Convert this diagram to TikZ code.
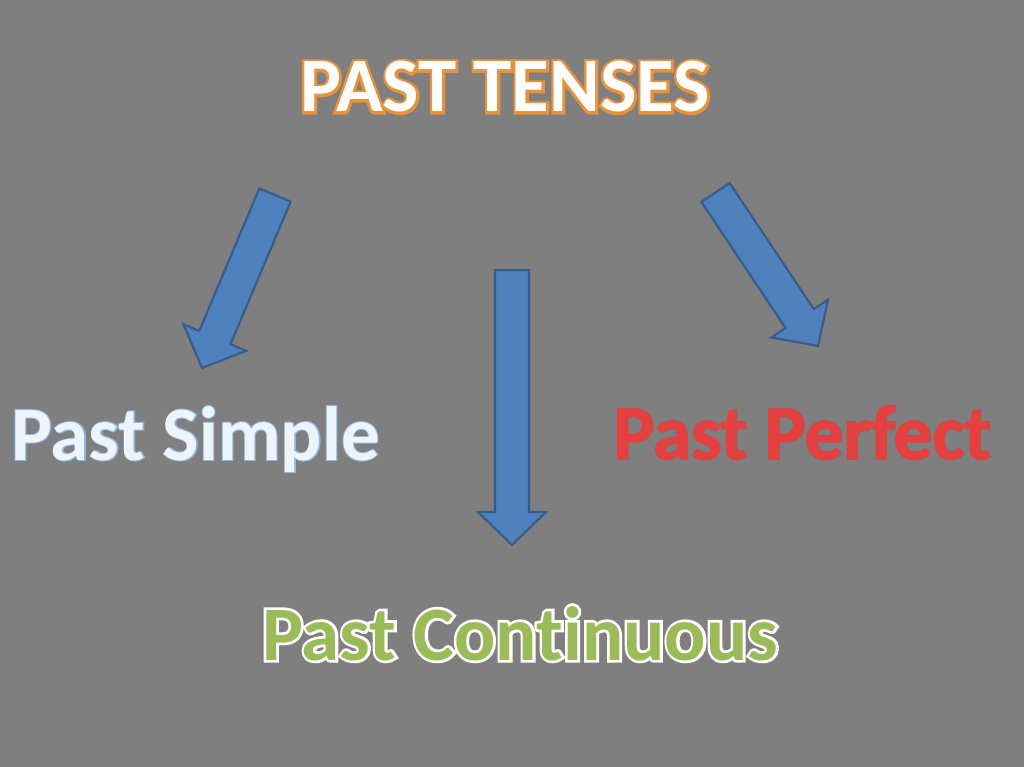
\documentclass[tikz,border=0pt]{standalone}
\usepackage{fontspec}
\setmainfont{Carlito}[Ligatures=NoCommon]
\newfontfamily\thickfont{Carlito}[Ligatures=NoCommon,BoldFeatures={FakeBold=7}]
\newfontfamily\thinfont{Carlito}[Ligatures=NoCommon,BoldFeatures={FakeBold=2.5}]
\usepackage{tikz}
\usetikzlibrary{calc}
\definecolor{bggray}{HTML}{7F7F7F}
\definecolor{arrfill}{HTML}{4F81BD}
\definecolor{arrline}{HTML}{385D8A}
\definecolor{ttlglow}{HTML}{E8923C}
\definecolor{simpfill}{HTML}{EEF4FB}
\definecolor{simpline}{HTML}{8EB4E3}
\definecolor{perffill}{HTML}{E5403F}
\definecolor{perfline}{HTML}{C0504D}
\definecolor{contfill}{HTML}{9BBB59}
\newcommand{\shaftw}{17pt}
\newcommand{\headw}{34pt}
\newcommand{\headl}{33pt}
% block arrow from shaft start #1 to tip #2
\newcommand{\blockarrow}[2]{%
  \coordinate (hd) at ($(#2)!\headl!(#1)$);
  \draw[barrow] ($(#1)!\shaftw!90:(#2)$) -- ($(hd)!\shaftw!90:(#2)$)
    -- ($(hd)!\headw!90:(#2)$) -- (#2) -- ($(hd)!\headw!-90:(#2)$)
    -- ($(hd)!\shaftw!-90:(#2)$) -- ($(#1)!\shaftw!-90:(#2)$) -- cycle;
}

\begin{document}
\begin{tikzpicture}[
  x=1pt,y=-1pt,
  every node/.style={font=\fontsize{77}{84}\selectfont\bfseries,inner sep=0pt,anchor=base},
  rim/.style={font=\fontsize{77}{84}\selectfont\thickfont\bfseries},
  thinrim/.style={font=\fontsize{77}{84}\selectfont\thinfont\bfseries},
  barrow/.style={fill=arrfill,draw=arrline,line width=2.2pt,line join=miter},
]
\fill[bggray] (0,0) rectangle (1024,767);
\useasboundingbox (0,0) rectangle (1024,767);

% outlines first, letters on top
\node[rim,text=ttlglow] (titlerim) at (505,112) {PAST TENSES};
\node[text=white] (title) at (505,112) {PAST TENSES};

\node[thinrim,text=simpline] (simplerim) at (195.5,460) {Past Simple};
\node[text=simpfill] (simple) at (195.5,460) {Past Simple};

\node[thinrim,text=perfline] (perfectrim) at (802.5,459) {Past Perfect};
\node[text=perffill] (perfect) at (802.5,459) {Past Perfect};

\node[rim,text=white] (contrim) at (520,660) {Past Continuous};
\node[text=contfill] (cont) at (520,660) {Past Continuous};

\coordinate (s1) at (275,195);
\coordinate (t1) at (202,368);
\coordinate (s2) at (512,270);
\coordinate (t2) at (512,545);
\coordinate (s3) at (715.5,192.5);
\coordinate (t3) at (818,346);

\blockarrow{s1}{t1}
\blockarrow{s2}{t2}
\blockarrow{s3}{t3}

\end{tikzpicture}
\end{document}
